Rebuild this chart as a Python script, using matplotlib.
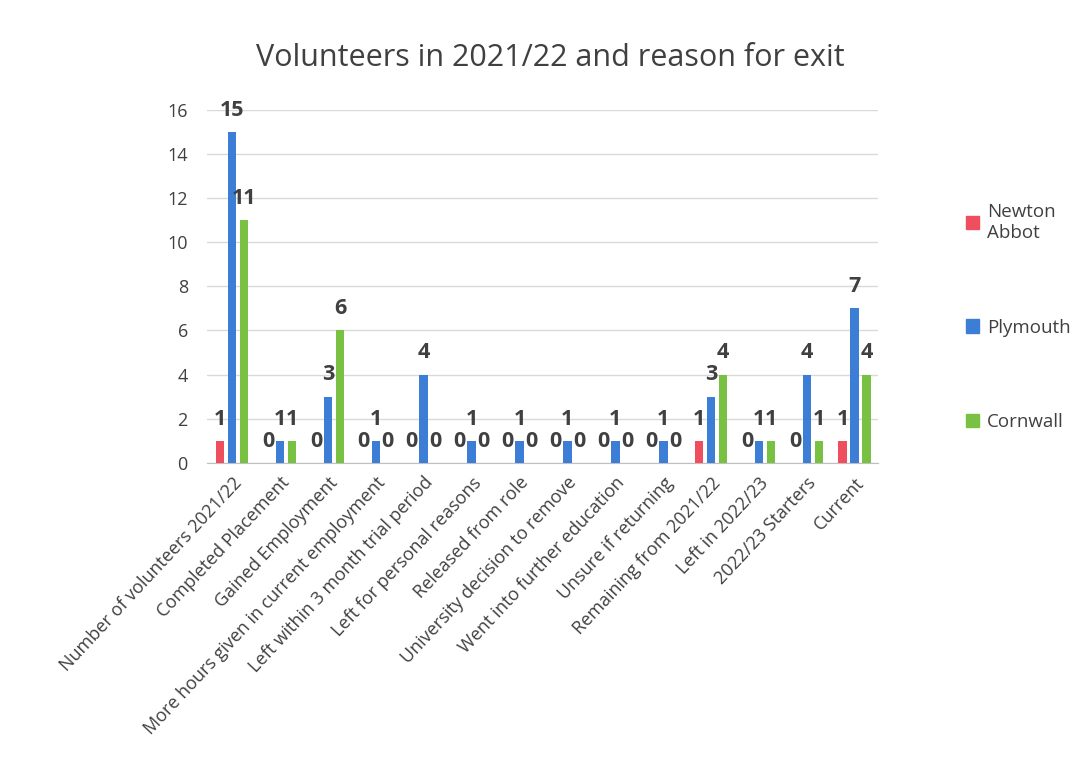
import numpy as np
import matplotlib.pyplot as plt
from matplotlib.patches import Patch

categories = ["Number of volunteers 2021/22", "Completed Placement", "Gained Employment",
              "More hours given in current employment", "Left within 3 month trial period",
              "Left for personal reasons", "Released from role", "University decision to remove",
              "Went into further education", "Unsure if returning", "Remaining from 2021/22",
              "Left in 2022/23", "2022/23 Starters", "Current"]
newton_abbot = [1, 0, 0, 0, 0, 0, 0, 0, 0, 0, 1, 0, 0, 1]
plymouth = [15, 1, 3, 1, 4, 1, 1, 1, 1, 1, 3, 1, 4, 7]
cornwall = [11, 1, 6, 0, 0, 0, 0, 0, 0, 0, 4, 1, 1, 4]

series = [("Newton\nAbbot", newton_abbot, "#EE4E5E"),
          ("Plymouth", plymouth, "#3C7DD6"),
          ("Cornwall", cornwall, "#79C142")]

plt.rcParams['font.family'] = ['Open Sans', 'DejaVu Sans']
text_col = "#404040"

fig = plt.figure(figsize=(10.85, 7.75), dpi=100)
ax = fig.add_axes([0.191, 0.403, 0.618, 0.455])

x = np.arange(len(categories))
step = 0.25
width = 0.18
for i, (name, vals, col) in enumerate(series):
    pos = x + (i - 1) * step
    ax.bar(pos, vals, width=width, color=col, label=name, zorder=3)
    for px, v in zip(pos, vals):
        ax.annotate(str(v), (px, v), xytext=(0, 8), textcoords="offset points",
                    ha="center", va="bottom", fontsize=15.5, fontweight="bold",
                    color=text_col, zorder=4, annotation_clip=False)

ax.set_xlim(-0.52, len(categories) - 0.52)
ax.set_ylim(0, 16)
ax.set_yticks(range(0, 17, 2))
ax.grid(axis="y", color="#D9D9D9", linewidth=1, zorder=0)
for s in ["top", "right", "left"]:
    ax.spines[s].set_visible(False)
ax.spines["bottom"].set_color("#BFBFBF")
ax.tick_params(axis="both", length=0, labelsize=13, colors=text_col)
ax.tick_params(axis="y", pad=14)
ax.tick_params(axis="x", pad=8)
ax.set_xticks(x)
ax.set_xticklabels(categories, rotation=47, ha="right", rotation_mode="anchor")

fig.text(0.507, 0.925, "Volunteers in 2021/22 and reason for exit", ha="center",
         va="center", fontsize=22, color=text_col)

handles = [Patch(color=c, label=n) for n, v, c in series]
fig.legend(handles=handles, loc="upper left", bbox_to_anchor=(0.875, 0.76),
           frameon=False, fontsize=13.5, labelcolor=text_col, handlelength=0.7,
           handleheight=0.7, handletextpad=0.4, labelspacing=4.1)

fig.savefig("out.png", dpi=100)
